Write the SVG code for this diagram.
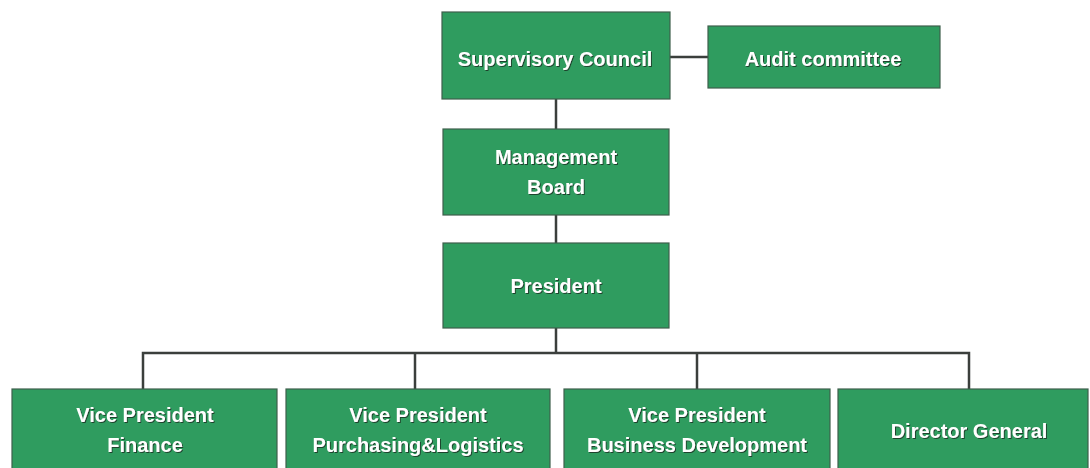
<svg xmlns="http://www.w3.org/2000/svg" width="1090" height="468" viewBox="0 0 1090 468">
<defs>
<style>
.box{fill:#2f9c5f;stroke:#3f5f4c;stroke-width:1.2}
.t{font-family:"Liberation Sans",Arial,sans-serif;font-weight:bold;font-size:20px;fill:#ffffff;text-anchor:middle}
.c{fill:none;stroke:#3b3f3c;stroke-width:2.5}
</style>
<filter id="sh" x="-10%" y="-30%" width="120%" height="160%">
<feDropShadow dx="1" dy="1" stdDeviation="0.6" flood-color="#1a2a20" flood-opacity="0.8"/>
</filter>
</defs>
<rect width="1090" height="468" fill="#ffffff"/>
<g id="connectors">
<path class="c" d="M670 57 H708"/>
<path class="c" d="M556 99 V129"/>
<path class="c" d="M556 215 V243"/>
<path class="c" d="M556 328 V353"/>
<path class="c" d="M143 389 V353 H969 V389"/>
<path class="c" d="M415 353 V389"/>
<path class="c" d="M697 353 V389"/>
</g>
<g id="supervisory">
<rect class="box" x="442" y="12" width="228" height="87"/>
<text class="t" x="555" y="66" filter="url(#sh)">Supervisory Council</text>
</g>
<g id="audit">
<rect class="box" x="708" y="26" width="232" height="62"/>
<text class="t" x="823" y="66" filter="url(#sh)">Audit committee</text>
</g>
<g id="management">
<rect class="box" x="443" y="129" width="226" height="86"/>
<text class="t" x="556" y="164" filter="url(#sh)">Management</text>
<text class="t" x="556" y="194" filter="url(#sh)">Board</text>
</g>
<g id="president">
<rect class="box" x="443" y="243" width="226" height="85"/>
<text class="t" x="556" y="293" filter="url(#sh)">President</text>
</g>
<g id="vp-finance">
<rect class="box" x="12" y="389" width="265" height="95"/>
<text class="t" x="145" y="422" filter="url(#sh)">Vice President</text>
<text class="t" x="145" y="452" filter="url(#sh)">Finance</text>
</g>
<g id="vp-purchasing">
<rect class="box" x="286" y="389" width="264" height="95"/>
<text class="t" x="418" y="422" filter="url(#sh)">Vice President</text>
<text class="t" x="418" y="452" filter="url(#sh)">Purchasing&amp;Logistics</text>
</g>
<g id="vp-business">
<rect class="box" x="564" y="389" width="266" height="95"/>
<text class="t" x="697" y="422" filter="url(#sh)">Vice President</text>
<text class="t" x="697" y="452" filter="url(#sh)">Business Development</text>
</g>
<g id="director-general">
<rect class="box" x="838" y="389" width="250" height="95"/>
<text class="t" x="969" y="438" filter="url(#sh)">Director General</text>
</g>
</svg>
